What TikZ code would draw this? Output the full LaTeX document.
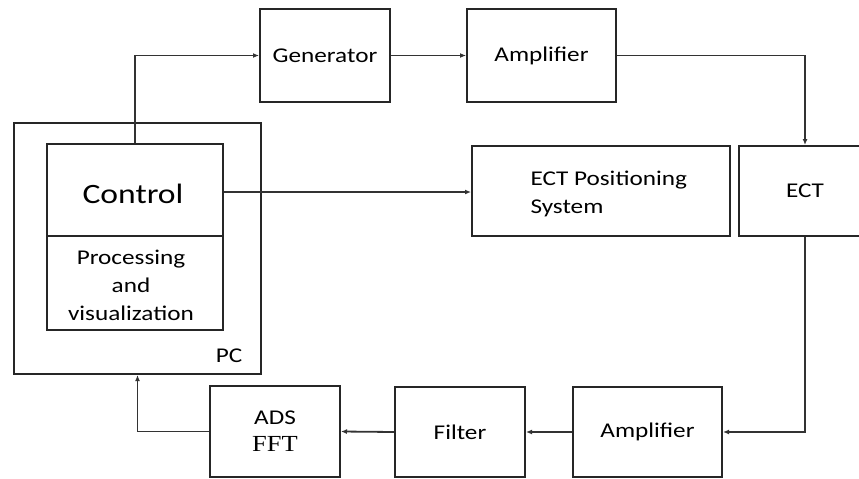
\documentclass[tikz,border=0pt]{standalone}
\usepackage{fontspec}
\setmainfont[FakeStretch=1.2]{Carlito}
\newfontfamily\fftfont[FakeStretch=1.15]{Liberation Serif}
\usetikzlibrary{arrows.meta}
\begin{document}
\begin{tikzpicture}[x=1pt,y=-1pt,
  box/.style={draw=black!85,line width=2pt,rectangle,inner sep=0pt},
  txt/.style={font=\fontsize{21}{28}\selectfont,text=black},
  conn/.style={draw=black!80,line width=1.8pt},
  arr/.style={conn,-{Latex[length=6pt,width=5pt]}}]
\clip (0,0) rectangle (859,479);
\fill[white] (0,0) rectangle (859,479);
% boxes
\node[box,minimum width=130pt,minimum height=93pt,txt] (gen) at (325,55.5) {Generator};
\node[box,minimum width=149pt,minimum height=93pt,txt] (amp1) at (541.5,55.5) {Amplifier};
\node[box,minimum width=247pt,minimum height=251pt] (pc) at (137.5,248.5) {};
\node[box,minimum width=176pt,minimum height=92pt] (control) at (135,190) {};
\node[font=\fontsize{28}{30}\selectfont,text=black] (controltxt) at (133,194) {Control};
\node[box,minimum width=176pt,minimum height=94pt,txt,align=center] (proc) at (135,283) {};
\node[txt,align=center] (proctxt) at (131,285) {Processing\\and\\visualization};
\node[txt,anchor=center] (pclabel) at (229,356) {PC};
\node[box,minimum width=258pt,minimum height=90pt] (ectpos) at (601,191) {};
\node[txt,align=left,anchor=west] (ectpostxt) at (527,194) {ECT Positioning\\System};
\node[box,minimum width=132pt,minimum height=90pt,txt] (ect) at (805,191) {ECT};
\node[box,minimum width=149pt,minimum height=90pt,txt] (amp2) at (647.5,432) {Amplifier};
\node[box,minimum width=130pt,minimum height=90pt,txt] (filter) at (460,432) {Filter};
\node[box,minimum width=130pt,minimum height=91pt,txt,align=center] (ads) at (275,431.5) {ADS\\[-1pt]{\fftfont\fontsize{23}{28}\selectfont FFT}};
% connectors
\draw[arr] (control.north) |- (gen.west);
\draw[arr] (gen.east) -- (amp1.west);
\draw[arr] (amp1.east) -| (ect.north);
\draw[arr] (control.east |- 0,192) -- (ectpos.west |- 0,192);
\draw[arr] (ect.south) |- (amp2.east);
\draw[arr] (amp2.west) -- (filter.east);
\draw[arr] (filter.west) -- (ads.east);
\draw[arr] (ads.west) -| (pc.south);
\end{tikzpicture}
\end{document}
